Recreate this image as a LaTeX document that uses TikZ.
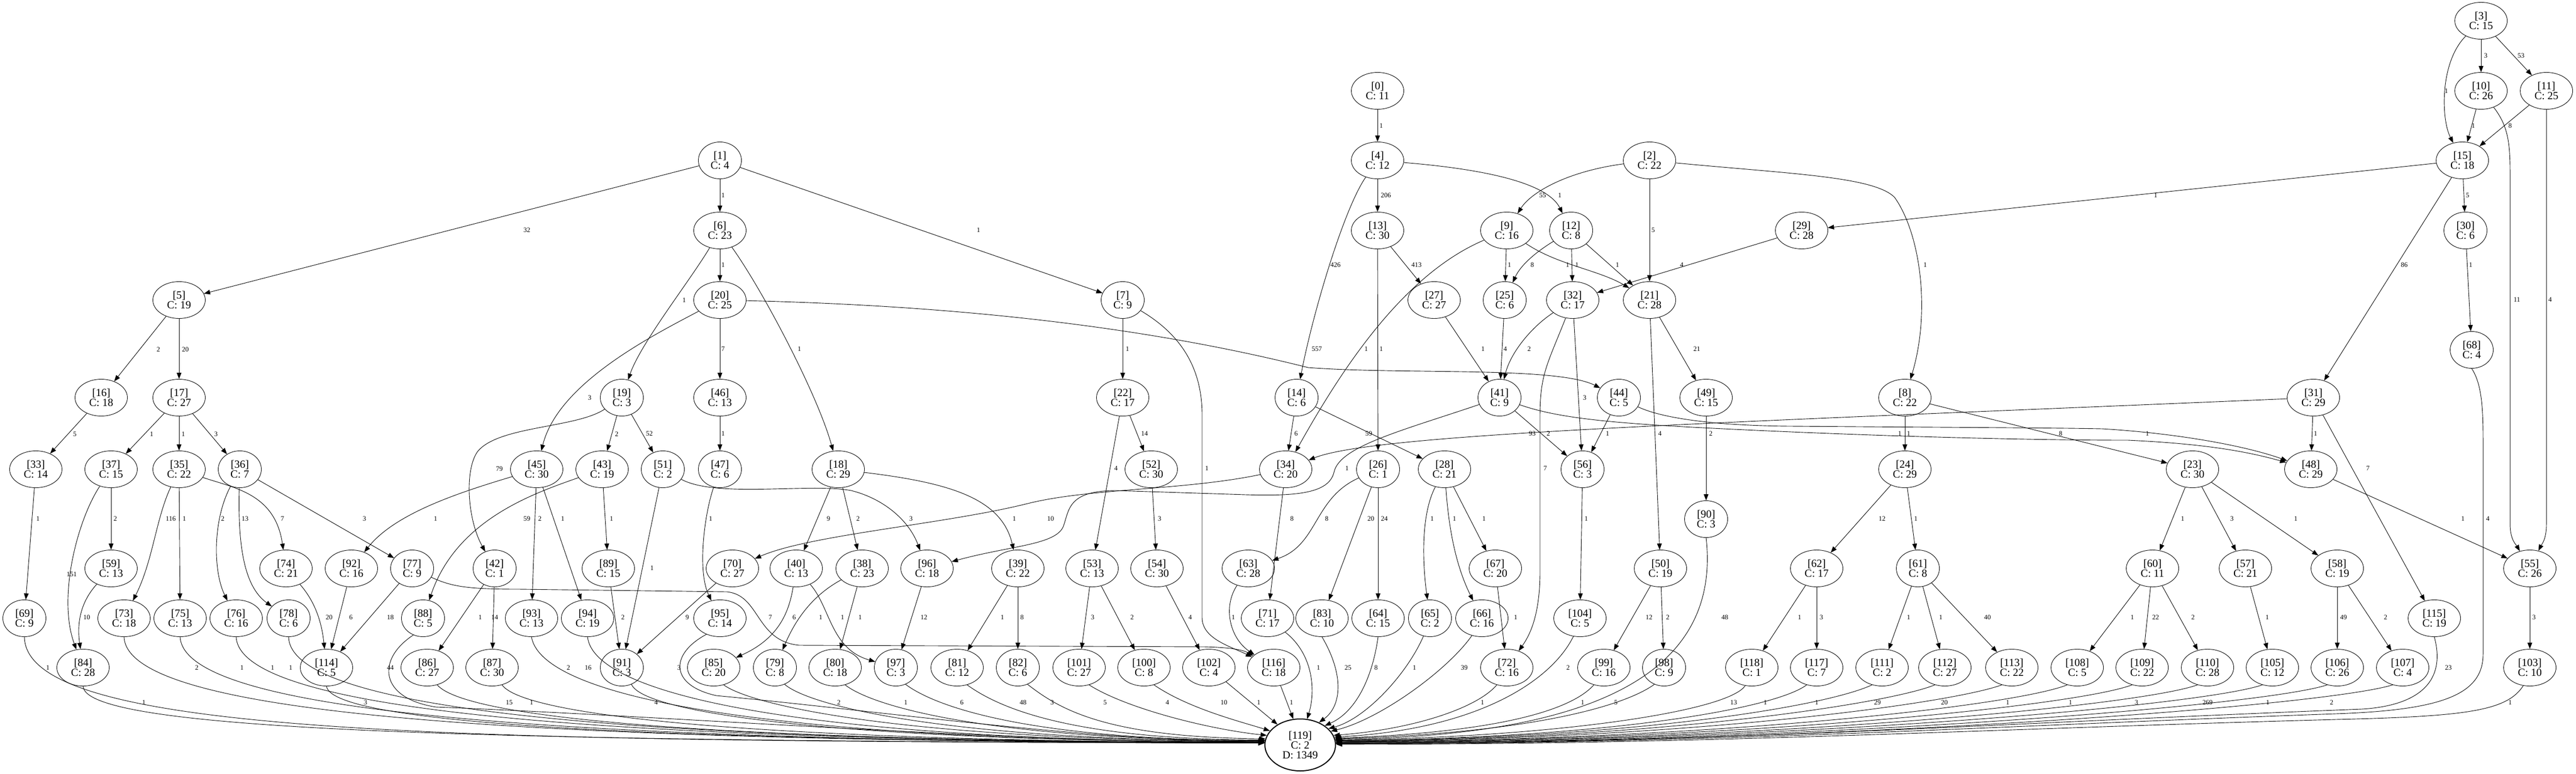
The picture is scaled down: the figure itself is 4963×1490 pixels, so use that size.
\documentclass[tikz,border=0pt]{standalone}
\usepackage{fontspec}
\setmainfont{Liberation Serif}
\usetikzlibrary{shapes.geometric,arrows.meta}
\newcommand\GW[4]{\node[nodeW] (n#1) at (#2,-#3) {[#1]\\C: #4};}
\newcommand\GN[4]{\node[nodeN] (n#1) at (#2,-#3) {[#1]\\C: #4};}
\newcommand\LB[3]{\node[elab] (l#1x#2) at (#1,-#2) {#3};}
\begin{document}
\begin{tikzpicture}[x=0.5pt,y=0.5pt,
  nodeBase/.style={ellipse,draw,line width=0.45pt,inner sep=0pt,minimum height=35.5pt,align=center,font=\fontsize{10.5pt}{9.5pt}\selectfont},
  nodeW/.style={nodeBase,minimum width=50.5pt},
  nodeN/.style={nodeBase,minimum width=41.5pt},
  edg/.style={line width=0.45pt,-{Triangle[length=6pt,width=4.5pt]}},
  elab/.style={font=\fontsize{6.5pt}{7pt}\selectfont,inner sep=0pt}]
\fill[white] (0,0) rectangle (4963,-1490);
\useasboundingbox (0,0) rectangle (4963,-1490);
% nodes
\GW{0}{2654}{175}{11}
\GN{1}{1387}{309}{4}
\GW{2}{3178}{309}{22}
\GW{3}{4780}{40}{15}
\GW{4}{2654}{309}{12}
\GW{5}{345}{578}{19}
\GW{6}{1387}{444}{23}
\GN{7}{2163}{578}{9}
\GW{8}{3670}{766}{22}
\GW{9}{2903}{444}{16}
\GW{10}{4780}{175}{26}
\GW{11}{4906}{175}{25}
\GN{12}{3027}{444}{8}
\GW{13}{2654}{444}{30}
\GN{14}{2498}{766}{6}
\GW{15}{4744}{309}{18}
\GW{16}{195}{766}{18}
\GW{17}{345}{766}{27}
\GW{18}{1615}{904}{29}
\GN{19}{1198}{766}{3}
\GW{20}{1387}{578}{25}
\GW{21}{3178}{578}{28}
\GW{22}{2163}{766}{17}
\GW{23}{4224}{904}{30}
\GW{24}{3670}{904}{29}
\GN{25}{2899}{578}{6}
\GN{26}{2655}{904}{1}
\GW{27}{2763}{578}{27}
\GW{28}{2783}{904}{21}
\GW{29}{3471}{444}{28}
\GN{30}{4750}{444}{6}
\GW{31}{4457}{766}{29}
\GW{32}{3030}{578}{17}
\GW{33}{69}{904}{14}
\GW{34}{2477}{904}{20}
\GW{35}{345}{904}{22}
\GN{36}{462}{904}{7}
\GW{37}{214}{904}{15}
\GW{38}{1661}{1095}{23}
\GW{39}{1961}{1095}{22}
\GW{40}{1534}{1095}{13}
\GN{41}{2889}{766}{9}
\GN{42}{953}{1095}{1}
\GW{43}{1160}{904}{19}
\GN{44}{3119}{766}{5}
\GW{45}{1034}{904}{30}
\GW{46}{1387}{766}{13}
\GN{47}{1387}{904}{6}
\GW{48}{4452}{904}{29}
\GW{49}{3287}{766}{15}
\GW{50}{3199}{1095}{19}
\GN{51}{1277}{904}{2}
\GW{52}{2218}{904}{30}
\GW{53}{2104}{1095}{13}
\GW{54}{2229}{1095}{30}
\GW{55}{4874}{1095}{26}
\GN{56}{3049}{904}{3}
\GW{57}{4326}{1095}{21}
\GW{58}{4503}{1095}{19}
\GW{59}{214}{1095}{13}
\GW{60}{4147}{1095}{11}
\GN{61}{3695}{1095}{8}
\GW{62}{3500}{1095}{17}
\GW{63}{2405}{1095}{28}
\GW{64}{2655}{1191}{15}
\GN{65}{2755}{1191}{2}
\GW{66}{2855}{1191}{16}
\GW{67}{2881}{1095}{20}
\GN{68}{4762}{674}{4}
\GN{69}{47}{1191}{9}
\GW{70}{1411}{1095}{27}
\GW{71}{2442}{1191}{17}
\GW{72}{2903}{1286}{16}
\GW{73}{239}{1191}{18}
\GW{74}{551}{1095}{21}
\GW{75}{347}{1191}{13}
\GW{76}{455}{1191}{16}
\GN{77}{794}{1095}{9}
\GN{78}{556}{1191}{6}
\GN{79}{1493}{1286}{8}
\GW{80}{1609}{1286}{18}
\GW{81}{1844}{1286}{12}
\GN{82}{1961}{1286}{6}
\GW{83}{2547}{1191}{10}
\GW{84}{160}{1286}{28}
\GW{85}{1375}{1286}{20}
\GW{86}{823}{1286}{27}
\GW{87}{948}{1286}{30}
\GN{88}{815}{1191}{5}
\GW{89}{1172}{1095}{15}
\GN{90}{3287}{1000}{3}
\GN{91}{1198}{1286}{3}
\GW{92}{677}{1095}{16}
\GW{93}{1024}{1191}{13}
\GW{94}{1132}{1191}{19}
\GW{95}{1387}{1191}{14}
\GW{96}{1786}{1095}{18}
\GN{97}{1726}{1286}{3}
\GN{98}{3206}{1286}{9}
\GW{99}{3090}{1286}{16}
\GW{100}{2204}{1286}{8}
\GW{101}{2079}{1286}{27}
\GW{102}{2329}{1286}{4}
\GW{103}{4874}{1286}{10}
\GW{104}{3044}{1191}{5}
\GW{105}{4378}{1286}{12}
\GW{106}{4503}{1286}{26}
\GW{107}{4629}{1286}{4}
\GW{108}{4002}{1286}{5}
\GW{109}{4127}{1286}{22}
\GW{110}{4253}{1286}{28}
\GW{111}{3626}{1286}{2}
\GW{112}{3747}{1286}{27}
\GW{113}{3876}{1286}{22}
\GW{114}{629}{1286}{5}
\GW{115}{4690}{1191}{19}
\GW{116}{2454}{1286}{18}
\GW{117}{3500}{1286}{7}
\GW{118}{3375}{1286}{1}
\node[nodeBase,line width=1pt,minimum width=68pt,minimum height=50pt] (n119) at (2505,-1435) {[119]\\C: 2\\D: 1349};
% straight edges
\foreach \a/\b in {3/10,3/11,10/15,11/15,15/29,15/30,15/31,30/68,0/4,4/13,2/21,13/27,13/26,9/25,12/32,12/21,29/32,27/41,25/41,32/56,21/49,21/50,14/34,14/28,41/56,44/56,49/90,8/24,8/23,31/48,31/115,26/83,26/64,28/67,56/104,24/62,24/61,67/72,50/99,50/98,62/118,62/117,61/111,61/112,61/113,23/60,23/57,23/58,48/55,60/108,60/109,60/110,57/105,58/106,58/107,55/103,1/5,1/6,1/7,6/20,20/46,7/22,46/47,19/51,19/43,5/16,5/17,16/33,17/37,17/35,17/36,33/69,37/59,35/75,36/77,45/93,45/94,43/89,92/114,77/114,42/86,42/87,89/91,51/91,70/91,18/40,18/38,38/80,96/97,39/81,39/82,53/101,53/100,54/102,22/52,22/53,52/54,34/71}
  {\draw[edg] (n\a) -- (n\b);}
% curved edges
\draw[edg] (n3) .. controls (4700,-120) and (4703,-230) .. (n15);
\draw[edg] (n10) .. controls (4830,-240) and (4836,-270) .. (4836,-330) -- (4836,-1010) .. controls (4836,-1040) and (4848,-1050) .. (n55);
\draw[edg] (n11) -- (4906,-1010) .. controls (4906,-1040) and (4896,-1050) .. (n55);
\draw[edg] (n20) .. controls (1250,-650) and (1075,-740) .. (n45);
\draw[edg] (n20) .. controls (1900,-590) and (2250,-640) .. (2520,-708) .. controls (2700,-722) and (3000,-705) .. (n44);
\draw[edg] (n6) .. controls (1330,-540) and (1235,-660) .. (n19);
\draw[edg] (n6) .. controls (1470,-560) and (1575,-760) .. (n18);
\draw[edg] (n7) .. controls (2285,-650) and (2316,-720) .. (2316,-800) -- (2316,-1190) .. controls (2316,-1230) and (2370,-1245) .. (n116);
\draw[edg] (n47) .. controls (1357,-990) and (1343,-1100) .. (n95);
\draw[edg] (n19) .. controls (1110,-825) and (960,-820) .. (920,-870) .. controls (895,-905) and (900,-1000) .. (n42);
\draw[edg] (n37) .. controls (150,-1000) and (110,-1150) .. (n84);
\draw[edg] (n59) .. controls (155,-1160) and (148,-1200) .. (n84);
\draw[edg] (n35) .. controls (300,-1000) and (295,-1080) .. (n73);
\draw[edg] (n35) .. controls (450,-940) and (530,-950) .. (n74);
\draw[edg] (n36) .. controls (410,-1000) and (410,-1100) .. (n76);
\draw[edg] (n36) .. controls (458,-1050) and (470,-1130) .. (n78);
\draw[edg] (n45) .. controls (880,-950) and (760,-990) .. (n92);
\draw[edg] (n43) .. controls (1030,-950) and (880,-1000) .. (n88);
\draw[edg] (n74) .. controls (608,-1160) and (620,-1200) .. (n114);
\draw[edg] (n77) .. controls (870,-1130) and (900,-1135) .. (1000,-1135) -- (1400,-1140) .. controls (1465,-1146) and (1455,-1235) .. (1540,-1243) -- (2320,-1246) .. controls (2370,-1247) and (2395,-1252) .. (n116);
\draw[edg] (n51) .. controls (1380,-960) and (1560,-930) .. (1640,-945) .. controls (1700,-960) and (1750,-1000) .. (n96);
\draw[edg] (n18) .. controls (1830,-930) and (1930,-960) .. (n39);
\draw[edg] (n34) .. controls (2280,-945) and (2100,-940) .. (1980,-970) .. controls (1820,-1010) and (1560,-1030) .. (n70);
\draw[edg] (n41) .. controls (2700,-830) and (2580,-860) .. (2570,-910) .. controls (2560,-950) and (2500,-956) .. (2400,-953) -- (2150,-945) .. controls (2060,-945) and (2060,-980) .. (2050,-1010) .. controls (2040,-1050) and (1950,-1050) .. (n96);
\draw[edg] (n40) .. controls (1520,-1180) and (1500,-1230) .. (n85);
\draw[edg] (n40) .. controls (1600,-1170) and (1600,-1250) .. (n97);
\draw[edg] (n38) .. controls (1560,-1150) and (1530,-1200) .. (n79);
\draw[edg] (n63) .. controls (2355,-1170) and (2370,-1230) .. (n116);
\draw[edg] (n4) .. controls (2850,-325) and (2980,-350) .. (n12);
\draw[edg] (n4) .. controls (2590,-400) and (2530,-600) .. (n14);
\draw[edg] (n2) .. controls (3020,-330) and (2950,-370) .. (n9);
\draw[edg] (n2) .. controls (3450,-335) and (3610,-340) .. (3650,-380) .. controls (3700,-450) and (3720,-600) .. (n8);
\draw[edg] (n9) .. controls (3000,-510) and (3080,-520) .. (n21);
\draw[edg] (n9) .. controls (2700,-530) and (2580,-720) .. (n34);
\draw[edg] (n12) .. controls (2960,-485) and (2930,-510) .. (n25);
\draw[edg] (n32) .. controls (2950,-630) and (2910,-680) .. (n41);
\draw[edg] (n32) .. controls (2982,-700) and (2967,-720) .. (2967,-800) -- (2967,-1100) .. controls (2967,-1180) and (2950,-1220) .. (n72);
\draw[edg] (n41) .. controls (3000,-805) and (3100,-815) .. (3300,-825) .. controls (3600,-840) and (3900,-848) .. (4100,-848) .. controls (4250,-855) and (4330,-870) .. (n48);
\draw[edg] (n44) .. controls (3200,-805) and (3300,-820) .. (3450,-821) .. controls (3700,-823) and (3950,-824) .. (4050,-826) .. controls (4200,-835) and (4330,-860) .. (n48);
\draw[edg] (n31) .. controls (3300,-815) and (2650,-835) .. (n34);
\draw[edg] (n26) .. controls (2530,-960) and (2540,-1050) .. (n63);
\draw[edg] (n28) .. controls (2738,-990) and (2740,-1080) .. (n65);
\draw[edg] (n28) .. controls (2790,-1000) and (2800,-1080) .. (n66);
% edges into 119, left side
\draw[edg] (n69.south) .. controls (50,-1420) and (883,-1428) .. (n119.177);
\draw[edg] (n84.south) .. controls (165,-1410) and (957,-1428) .. (n119.177);
\draw[edg] (n73.south) .. controls (245,-1380) and (1008,-1428) .. (n119.177);
\draw[edg] (n75.south) .. controls (355,-1375) and (1078,-1428) .. (n119.177);
\draw[edg] (n76.south) .. controls (462,-1370) and (1148,-1428) .. (n119.176);
\draw[edg] (n78.south) .. controls (560,-1370) and (1214,-1428) .. (n119.176);
\draw[edg] (n114.south) .. controls (640,-1395) and (1261,-1428) .. (n119.176);
\draw[edg] (n88.240) .. controls (725,-1270) and (730,-1345) .. (840,-1362) .. controls (1300,-1380) and (1900,-1428) .. (n119.176);
\draw[edg] (n86.300) .. controls (900,-1385) and (1388,-1428) .. (n119.176);
\draw[edg] (n87.300) .. controls (1010,-1380) and (1469,-1428) .. (n119.176);
\draw[edg] (n93.south) .. controls (1045,-1350) and (1518,-1428) .. (n119.175);
\draw[edg] (n94.south) .. controls (1145,-1345) and (1588,-1428) .. (n119.175);
\draw[edg] (n91.300) .. controls (1240,-1375) and (1631,-1428) .. (n119.175);
\draw[edg] (n95.230) .. controls (1290,-1260) and (1290,-1320) .. (1380,-1340) .. controls (1700,-1370) and (2100,-1428) .. (n119.175);
\draw[edg] (n85.300) .. controls (1450,-1360) and (1746,-1426) .. (n119.174);
\draw[edg] (n79.300) .. controls (1560,-1360) and (1823,-1426) .. (n119.174);
\draw[edg] (n80.300) .. controls (1680,-1360) and (1898,-1425) .. (n119.173);
\draw[edg] (n97.300) .. controls (1800,-1360) and (1975,-1425) .. (n119.173);
\draw[edg] (n81.300) .. controls (1920,-1360) and (2051,-1424) .. (n119.172);
\draw[edg] (n82.300) .. controls (2040,-1365) and (2127,-1420) .. (n119.170);
\draw[edg] (n101.300) .. controls (2170,-1365) and (2330,-1405) .. (n119.164);
\draw[edg] (n100.300) .. controls (2290,-1365) and (2390,-1390) .. (n119.155);
\draw[edg] (n102) -- (n119.138);
\draw[edg] (n116) -- (n119.105);
% edges into 119, right side
\draw[edg] (n71) .. controls (2530,-1260) and (2535,-1330) .. (n119.75);
\draw[edg] (n83.south) .. controls (2590,-1300) and (2585,-1360) .. (n119.50);
\draw[edg] (n64.south) .. controls (2645,-1300) and (2615,-1370) .. (n119.38);
\draw[edg] (n65.250) .. controls (2710,-1300) and (2630,-1385) .. (n119.30);
\draw[edg] (n66.240) .. controls (2790,-1290) and (2660,-1385) .. (n119.24);
\draw[edg] (n72.240) .. controls (2845,-1365) and (2720,-1405) .. (n119.16);
\draw[edg] (n104.250) .. controls (2990,-1310) and (2850,-1405) .. (n119.13);
\draw[edg] (n99.240) .. controls (3030,-1365) and (2900,-1410) .. (n119.11);
\draw[edg] (n98.240) .. controls (3130,-1360) and (2950,-1412) .. (n119.10);
\draw[edg] (n90.south) .. controls (3320,-1330) and (3000,-1418) .. (n119.9);
\draw[edg] (n118.250) .. controls (3330,-1370) and (3000,-1420) .. (n119.8);
\draw[edg] (n117.240) .. controls (3420,-1365) and (3100,-1422) .. (n119.7);
\draw[edg] (n111.240) .. controls (3520,-1360) and (3150,-1423) .. (n119.7);
\draw[edg] (n112.240) .. controls (3640,-1355) and (3200,-1424) .. (n119.6);
\draw[edg] (n113.240) .. controls (3760,-1355) and (3250,-1425) .. (n119.6);
\draw[edg] (n108.240) .. controls (3880,-1360) and (3300,-1426) .. (n119.5);
\draw[edg] (n109.240) .. controls (4000,-1360) and (3350,-1427) .. (n119.5);
\draw[edg] (n110.240) .. controls (4120,-1360) and (3400,-1428) .. (n119.4);
\draw[edg] (n105.240) .. controls (4240,-1360) and (3450,-1429) .. (n119.4);
\draw[edg] (n106.240) .. controls (4360,-1360) and (3500,-1430) .. (n119.3);
\draw[edg] (n107.240) .. controls (4480,-1360) and (3550,-1431) .. (n119.3);
\draw[edg] (n115.south) .. controls (4715,-1320) and (4650,-1360) .. (4550,-1366) .. controls (3800,-1395) and (3300,-1432) .. (n119.2);
\draw[edg] (n68.south) .. controls (4782,-740) and (4784,-790) .. (4784,-850) -- (4784,-1260) .. controls (4784,-1340) and (4700,-1368) .. (4500,-1375) .. controls (3800,-1400) and (3300,-1433) .. (n119.2);
\draw[edg] (n103.250) .. controls (4830,-1370) and (4750,-1380) .. (4500,-1386) .. controls (3800,-1405) and (3300,-1434) .. (n119.1);
% labels
\LB{4789}{107}{3}\LB{4857}{107}{53}\LB{4713}{175}{1}\LB{4765}{242}{1}\LB{4836}{242}{8}
\LB{2661}{242}{1}\LB{4153}{376}{1}\LB{4754}{376}{5}\LB{1393}{376}{1}\LB{2670}{376}{206}
\LB{2972}{376}{55}\LB{3005}{376}{1}\LB{1015}{443}{32}\LB{1885}{443}{1}\LB{3185}{443}{5}
\LB{1393}{510}{1}\LB{2573}{510}{426}\LB{2729}{510}{413}\LB{2908}{510}{1}\LB{2952}{510}{8}
\LB{3020}{510}{1}\LB{3038}{510}{1}\LB{3116}{510}{1}\LB{3240}{510}{4}\LB{3709}{510}{1}
\LB{4632}{510}{86}\LB{4760}{510}{1}\LB{1318}{578}{1}\LB{4849}{577}{11}\LB{4913}{577}{4}
\LB{305}{673}{2}\LB{357}{673}{20}\LB{1136}{766}{3}\LB{1393}{672}{7}\LB{1540}{672}{1}
\LB{2172}{672}{1}\LB{2537}{672}{557}\LB{2632}{672}{1}\LB{2661}{672}{1}\LB{2857}{672}{1}
\LB{2900}{672}{4}\LB{2946}{672}{2}\LB{3269}{672}{21}\LB{3053}{766}{3}
\LB{144}{836}{5}\LB{292}{836}{1}\LB{353}{836}{1}\LB{416}{836}{3}\LB{1188}{836}{2}
\LB{1251}{835}{52}\LB{1393}{835}{1}\LB{2205}{835}{14}\LB{2497}{835}{6}\LB{2637}{835}{59}
\LB{2952}{835}{93}\LB{2983}{835}{2}\LB{3097}{835}{1}\LB{3198}{835}{4}\LB{3296}{835}{2}
\LB{3660}{835}{1}\LB{3677}{835}{1}\LB{3970}{835}{8}\LB{4137}{835}{1}\LB{4461}{835}{1}
\LB{962}{903}{79}\LB{2150}{902}{4}\LB{2325}{902}{1}\LB{2595}{902}{1}\LB{2977}{902}{7}\LB{4562}{902}{7}
\LB{73}{999}{1}\LB{222}{999}{2}\LB{329}{999}{116}\LB{355}{999}{1}\LB{429}{999}{2}
\LB{472}{999}{13}\LB{544}{999}{7}\LB{702}{999}{3}\LB{839}{999}{1}\LB{1015}{999}{59}
\LB{1040}{999}{2}\LB{1084}{999}{1}\LB{1178}{999}{1}\LB{1369}{999}{1}\LB{1596}{999}{9}
\LB{1653}{999}{2}\LB{1755}{999}{3}\LB{1954}{999}{1}\LB{2024}{999}{10}\LB{2234}{999}{3}
\LB{2489}{999}{8}\LB{2556}{999}{8}\LB{2641}{999}{20}\LB{2667}{999}{24}\LB{2759}{999}{1}
\LB{2802}{999}{1}\LB{2859}{999}{1}\LB{3056}{999}{1}\LB{3626}{999}{12}\LB{3691}{999}{1}
\LB{4205}{999}{1}\LB{4300}{999}{3}\LB{4423}{999}{1}\LB{4745}{999}{1}\LB{4793}{999}{4}
\LB{1256}{1094}{1}\LB{138}{1106}{151}
\LB{167}{1189}{10}\LB{634}{1189}{20}\LB{676}{1189}{6}\LB{752}{1189}{18}\LB{925}{1189}{1}
\LB{953}{1189}{14}\LB{1200}{1189}{2}\LB{1324}{1189}{9}\LB{1484}{1189}{7}\LB{1530}{1189}{6}
\LB{1581}{1189}{1}\LB{1623}{1189}{1}\LB{1657}{1189}{1}\LB{1780}{1189}{12}\LB{1931}{1189}{1}
\LB{1969}{1189}{8}\LB{2105}{1189}{3}\LB{2181}{1189}{2}\LB{2293}{1189}{4}\LB{2376}{1189}{1}
\LB{2920}{1189}{1}\LB{3177}{1189}{12}\LB{3213}{1189}{2}\LB{3323}{1189}{48}\LB{3467}{1189}{1}
\LB{3509}{1189}{3}\LB{3677}{1189}{1}\LB{3739}{1189}{1}\LB{3829}{1189}{40}\LB{4108}{1189}{1}
\LB{4153}{1189}{22}\LB{4225}{1189}{2}\LB{4368}{1189}{1}\LB{4515}{1189}{49}\LB{4596}{1189}{2}
\LB{4882}{1189}{3}
\LB{92}{1286}{1}\LB{379}{1286}{2}\LB{466}{1286}{1}\LB{525}{1286}{1}\LB{560}{1286}{1}
\LB{752}{1286}{44}\LB{1095}{1286}{2}\LB{1133}{1286}{16}\LB{1308}{1286}{3}\LB{2540}{1286}{1}
\LB{2597}{1286}{25}\LB{2651}{1286}{8}\LB{2725}{1286}{1}\LB{2821}{1286}{39}\LB{3021}{1286}{2}
\LB{4717}{1286}{23}
\LB{277}{1353}{1}\LB{704}{1353}{3}\LB{981}{1353}{15}\LB{1024}{1353}{1}\LB{1264}{1353}{4}
\LB{1616}{1353}{2}\LB{1745}{1353}{1}\LB{1853}{1353}{6}\LB{1971}{1353}{48}\LB{2027}{1353}{3}
\LB{2129}{1353}{5}\LB{2249}{1353}{4}\LB{2358}{1353}{10}\LB{2425}{1353}{1}\LB{2488}{1353}{1}
\LB{2856}{1353}{1}\LB{3049}{1353}{1}\LB{3113}{1353}{5}\LB{3340}{1353}{13}\LB{3401}{1353}{1}
\LB{3500}{1353}{1}\LB{3617}{1353}{29}\LB{3746}{1353}{20}\LB{3868}{1353}{1}\LB{3989}{1353}{1}
\LB{4116}{1353}{3}\LB{4253}{1353}{269}\LB{4369}{1353}{1}\LB{4492}{1353}{2}\LB{4836}{1353}{1}
\end{tikzpicture}
\end{document}
